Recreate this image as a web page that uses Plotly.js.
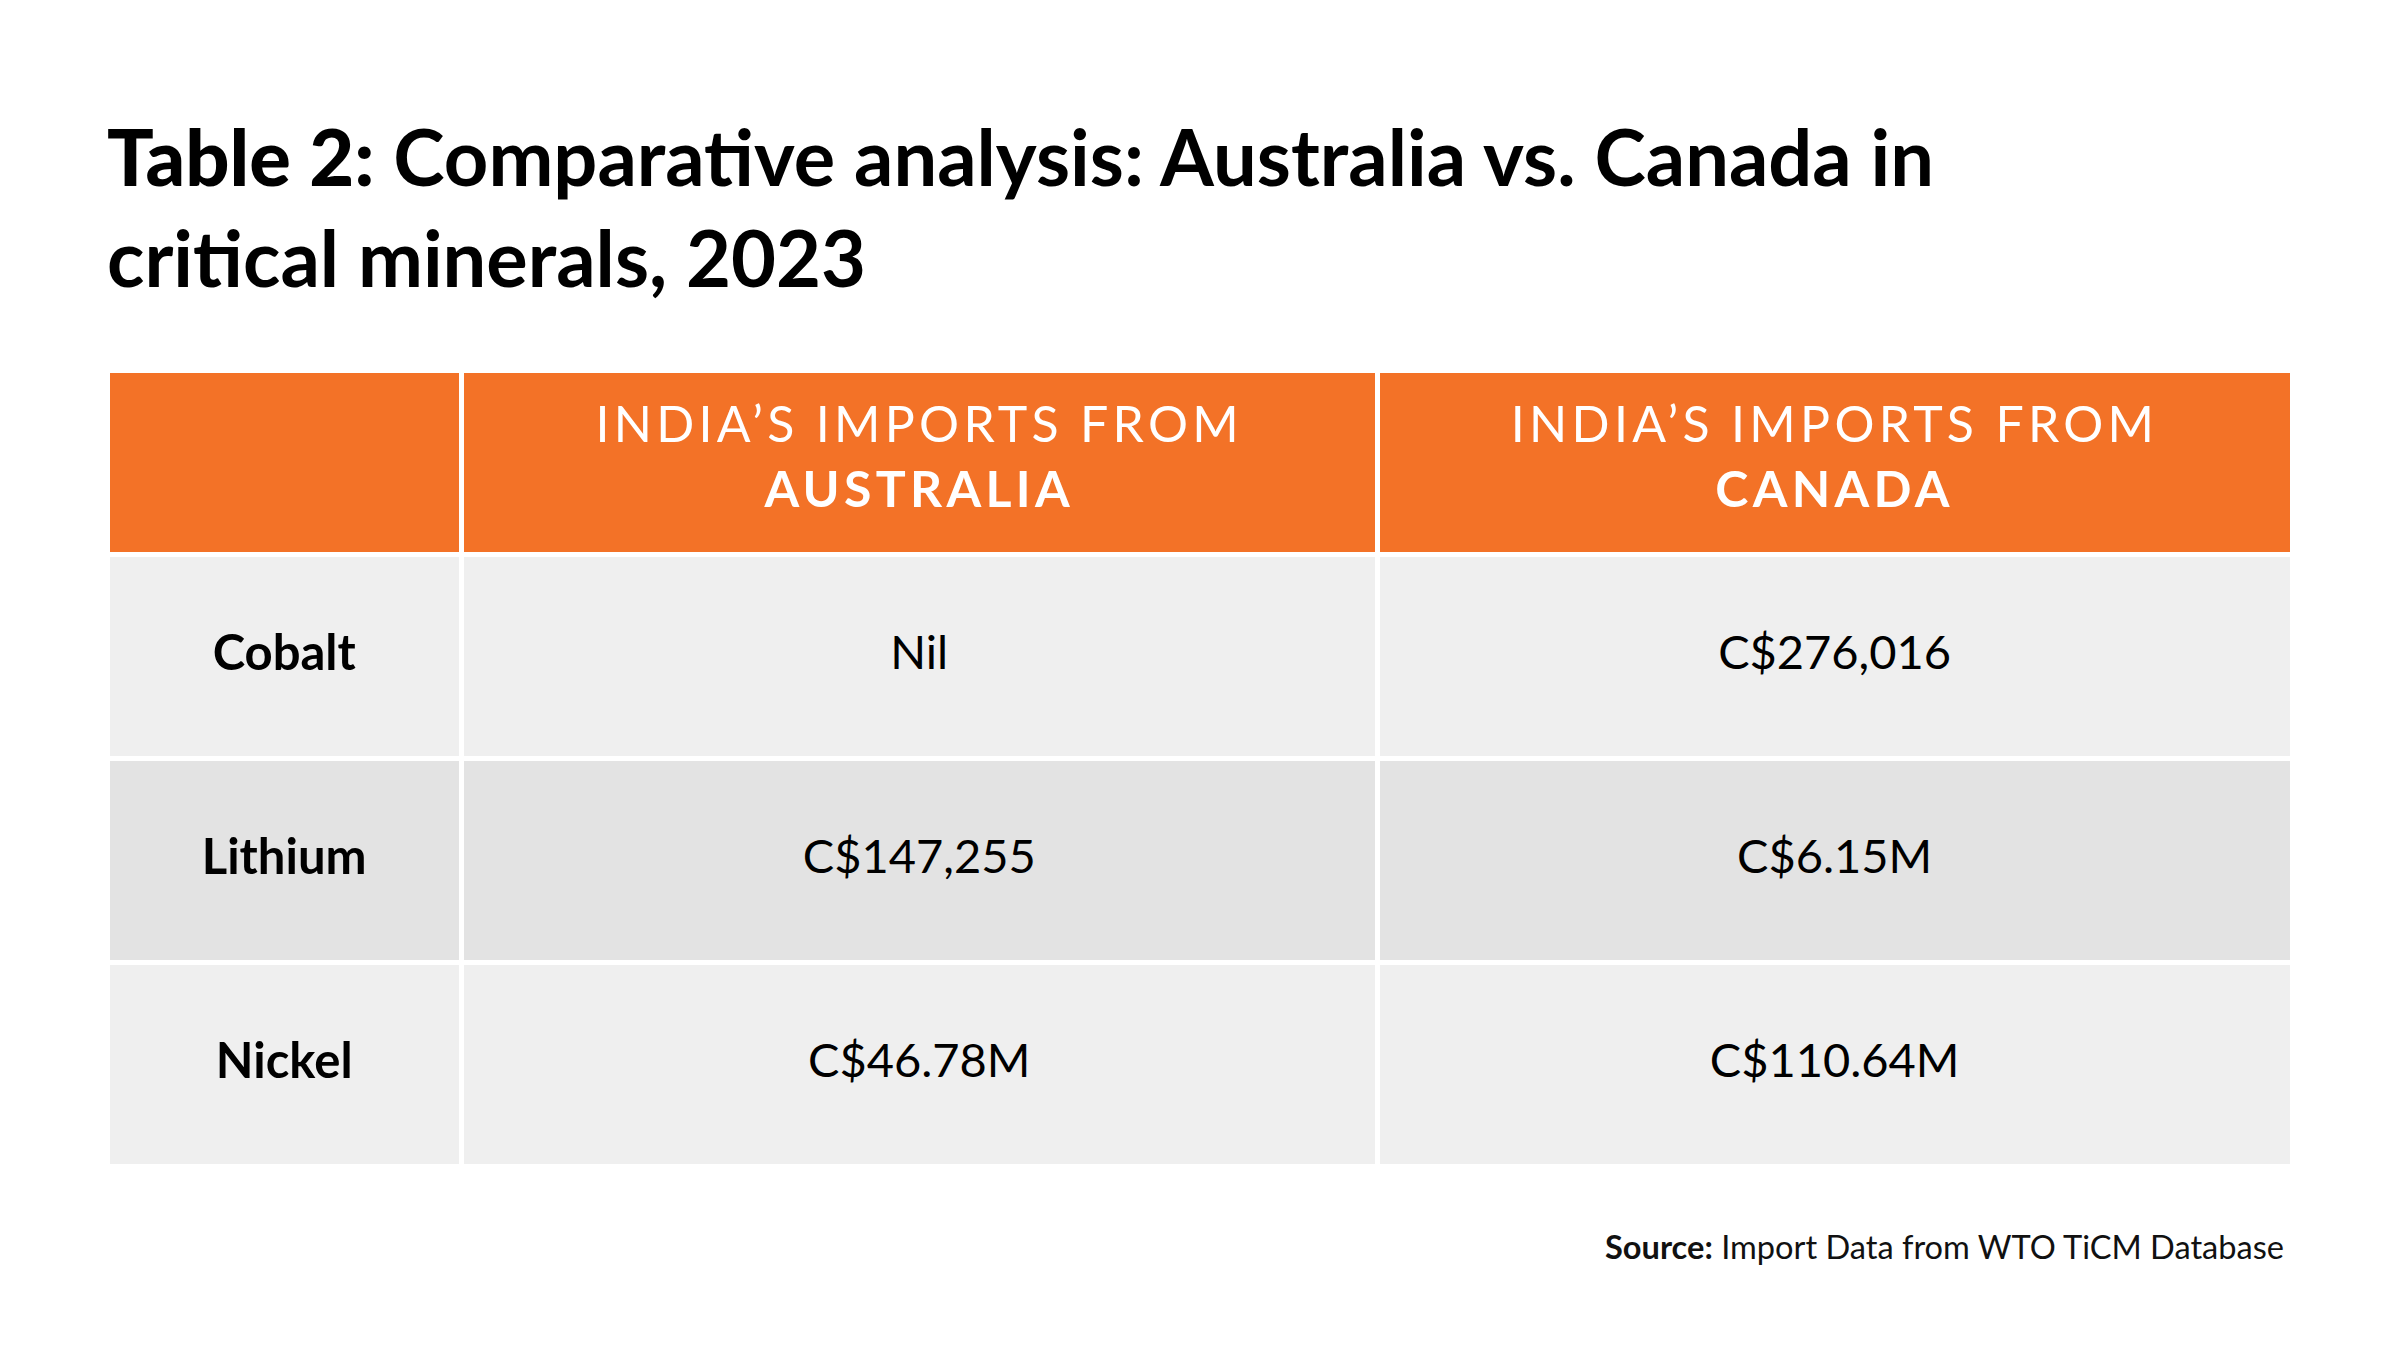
<!DOCTYPE html>
<html>
<head>
<meta charset="utf-8">
<script src="https://cdn.plot.ly/plotly-3.0.1.min.js"></script>
<style>
  html, body { margin: 0; padding: 0; background: #ffffff; }
  #chart { width: 2400px; height: 1365px; }
</style>
</head>
<body>
<div id="chart"></div>
<script>
// ---- Data ----
const titleLead = "Table 2:";
const titleRest = "Comparative analysis: Australia vs. Canada in<br>critical minerals, 2023";
const headerLead = "INDIA\u2019S IMPORTS FROM";
const countries = ["AUSTRALIA", "CANADA"];
const minerals = ["Cobalt", "Lithium", "Nickel"];
const fromAustralia = ["Nil", "C$147,255", "C$46.78M"];
const fromCanada = ["C$276,016", "C$6.15M", "C$110.64M"];
const sourceLabel = "Source:";
const sourceText = "Import Data from WTO TiCM Database";

// ---- Styles ----
const W = 2400, H = 1365;
const FONT = "Lato, 'Noto Sans', sans-serif";
const ORANGE = "#F37227";
const rowFills = ["#EFEFEF", "#E3E3E3", "#EFEFEF"];

const headerValues = [[""]].concat(countries.map(c => [headerLead + "<br><b>" + c + "</b>"]));
const cellValues = [
  minerals.map(m => "<b>" + m + "</b>"),
  fromAustralia,
  fromCanada
];

const trace = {
  type: "table",
  domain: { x: [107 / W, 2292 / W], y: [1 - 1190 / H, 1 - 370 / H] },
  columnwidth: [354, 915, 914],
  header: {
    values: headerValues,
    align: "center",
    height: 184,
    fill: { color: ORANGE },
    line: { color: "#FFFFFF", width: 5 },
    font: { family: FONT, size: 50, color: "#FFFFFF" }
  },
  cells: {
    values: cellValues,
    align: "center",
    height: 204,
    fill: { color: [rowFills, rowFills, rowFills] },
    line: { color: "#FFFFFF", width: 5 },
    font: { family: FONT, size: [49, 47, 47], color: "#000000" }
  }
};

const layout = {
  width: W, height: H,
  margin: { l: 0, r: 0, t: 0, b: 0 },
  paper_bgcolor: "#FFFFFF",
  plot_bgcolor: "#FFFFFF",
  title: {
    text: "<span style=\"font-weight:900\">" + titleLead + "</span> " + titleRest,
    font: { family: FONT, size: 77.6, color: "#000000", weight: 700 },
    x: 107 / W, xanchor: "left", xref: "container",
    y: 1 - 186 / H, yanchor: "top", yref: "container"
  },
  annotations: [{
    text: "<b>" + sourceLabel + "</b> " + sourceText,
    xref: "paper", yref: "paper",
    x: 2286 / W, y: 1 - 1268 / H,
    xanchor: "right", yanchor: "bottom",
    showarrow: false,
    font: { family: FONT, size: 32.6, color: "#111111" }
  }]
};

Plotly.newPlot("chart", [trace], layout, { displayModeBar: false, staticPlot: true }).then(gd => {
  const cells = gd.querySelectorAll(".column-cell");
  cells.forEach(cell => {
    const rect = cell.querySelector(".cell-rect");
    const text = cell.querySelector(".cell-text");
    if (!rect || !text || !text.textContent.trim()) return;
    const isHeader = text.textContent.indexOf("IMPORTS") >= 0;
    if (isHeader) text.style.letterSpacing = "4.3px";
    text.setAttribute("text-anchor", "middle");
    text.querySelectorAll("tspan.line").forEach(ts => ts.setAttribute("x", 0));
    let ex = 0, ey = 0;
    const cons = text.transform && text.transform.baseVal.consolidate();
    if (cons) { ex = cons.matrix.e; ey = cons.matrix.f; }
    const r = rect.getBoundingClientRect();
    const t = text.getBoundingClientRect();
    const dx = (r.left + r.width / 2) - (t.left + t.width / 2) + ex;
    const dy = (r.top + r.height / 2) - (t.top + t.height / 2) + (isHeader ? -7 : -5) + ey;
    text.setAttribute("transform", "translate(" + dx.toFixed(1) + "," + dy.toFixed(1) + ")");
  });
});
</script>
</body>
</html>
